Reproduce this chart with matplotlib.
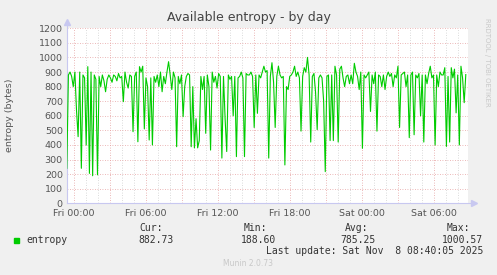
import numpy as np
import matplotlib
matplotlib.use("Agg")
import matplotlib.pyplot as plt

# entropy samples (bytes), read left to right off the day graph
entropy = [
    240, 880, 900, 870, 800, 900, 640, 457, 900, 240, 880, 860, 400, 937, 205, 900, 189, 880, 850, 195,
    870, 800, 880, 840, 765, 850, 880, 860, 830, 880, 870, 840, 890, 860, 870, 697, 900, 830, 790, 880,
    870, 491, 870, 900, 422, 937, 900, 940, 510, 860, 800, 434, 860, 400, 870, 830, 880, 800, 900, 765,
    870, 820, 900, 971, 880, 780, 900, 860, 388, 870, 820, 880, 594, 800, 870, 890, 880, 388, 800, 380,
    580, 380, 430, 870, 780, 870, 480, 880, 800, 365, 900, 830, 870, 790, 890, 870, 310, 870, 580, 355,
    880, 850, 870, 600, 870, 320, 860, 870, 900, 860, 320, 890, 880, 880, 900,
    870, 520, 880, 617, 880, 860, 900, 940, 900, 910, 310, 870, 964, 830, 520, 870, 940, 880, 860, 870,
    263, 800, 780, 870, 880, 900, 940, 870, 900, 860, 495, 870, 930, 900, 1000.6, 880, 420, 870, 890, 760,
    505, 860, 880, 860, 700, 217, 870, 880, 430, 880, 430, 940, 880, 420, 920, 940, 860, 800, 870, 880,
    820, 880, 820, 960, 900, 870, 780, 900, 377, 880, 860, 880, 900, 630, 880, 820, 900, 495, 880, 870,
    800, 880, 780, 870, 900, 870, 890, 800, 880, 860, 940, 520, 880, 890, 900, 800, 880, 450, 880, 900,
    470, 880, 860, 890, 600, 880, 420, 880, 820, 890, 940, 860, 880, 400, 880, 800, 900, 880, 880, 930,
    390, 870, 420, 930, 860, 920, 620, 880, 400, 940, 860, 690, 882.73,
]
tick_hours = [0, 6, 12, 18, 24, 30]
tick_labels = ["Fri 00:00", "Fri 06:00", "Fri 12:00", "Fri 18:00", "Sat 00:00", "Sat 06:00"]
yticks = list(range(0, 1201, 100))

stat_heads = ["Cur:", "Min:", "Avg:", "Max:"]
stat_vals = ["882.73", "188.60", "785.25", "1000.57"]

W, H = 497, 275
fig = plt.figure(figsize=(W / 100, H / 100), dpi=100, facecolor="#F0F0F0")

def fx(x):
    return x / W

def fy(y):
    return 1 - y / H

left, right, top, bottom = 67, 468, 28.3, 203.3
ax = fig.add_axes([fx(left), fy(bottom), (right - left) / W, (bottom - top) / H])
ax.set_facecolor("white")

x0, x1 = -7 / 12, (right - 74) / 12
ax.set_xlim(x0, x1)
ax.set_ylim(0, 1200)

# grid: grey every hour, red every 3 hours, red every 100 bytes
for h in range(0, 33):
    col = "#E6A0A0" if h % 3 == 0 else "#CFCFCF"
    ax.axvline(h, color=col, lw=0.6, ls=(0, (1, 2)), zorder=1)
for v in yticks[1:]:
    ax.axhline(v, color="#E6A0A0", lw=0.6, ls=(0, (1, 2)), zorder=1)

hours = np.linspace(-0.6, 32.65, len(entropy))
ax.plot(hours, entropy, color="#00CC00", lw=0.8, zorder=3)

for s in ax.spines.values():
    s.set_visible(False)
ax.plot([0, 0], [0, 1.03], transform=ax.transAxes, color="#C8C8F0", lw=0.8, clip_on=False)
ax.plot([0, 1.01], [0, 0], transform=ax.transAxes, color="#C8C8F0", lw=0.8, clip_on=False)
ax.plot([0], [1.035], marker="^", ms=4, color="#C8C8F0", transform=ax.transAxes, clip_on=False)
ax.plot([1.015], [0], marker=">", ms=4, color="#C8C8F0", transform=ax.transAxes, clip_on=False)

ax.set_xticks(tick_hours)
ax.set_xticklabels(tick_labels)
ax.set_yticks(yticks)
ax.tick_params(axis="both", length=0, labelsize=6.8, colors="#555555", pad=3)
ax.tick_params(axis="x", pad=4)

fig.text(fx(249), fy(17), "Available entropy - by day", ha="center", va="center",
         fontsize=9, color="#444444")
fig.text(fx(10), fy(115), "entropy (bytes)", rotation=90, ha="center", va="center",
         fontsize=6.8, color="#555555")
fig.text(fx(487), fy(62), "RRDTOOL / TOBI OETIKER", rotation=270, ha="center", va="center",
         fontsize=5, color="#C8C8C8")

mono = "DejaVu Sans Mono"
head_x = [163, 267, 368, 470]
val_x = [174, 276, 376, 483]
for hx, t in zip(head_x, stat_heads):
    fig.text(fx(hx), fy(228), t, ha="right", va="center", family=mono, fontsize=7, color="#333333")
for vx, t in zip(val_x, stat_vals):
    fig.text(fx(vx), fy(240), t, ha="right", va="center", family=mono, fontsize=7, color="#333333")
fig.patches.append(plt.Rectangle((fx(14), fy(243)), 5 / W, 5 / H, transform=fig.transFigure,
                                 color="#00CC00", figure=fig))
fig.text(fx(26), fy(240), "entropy", ha="left", va="center", family=mono, fontsize=7, color="#333333")
fig.text(fx(483), fy(251.5), "Last update: Sat Nov  8 08:40:05 2025", ha="right", va="center",
         family=mono, fontsize=7, color="#333333")
fig.text(fx(248), fy(264), "Munin 2.0.73", ha="center", va="center", fontsize=5.5, color="#C8C8C8")

fig.savefig("out.png", dpi=100, facecolor=fig.get_facecolor())
